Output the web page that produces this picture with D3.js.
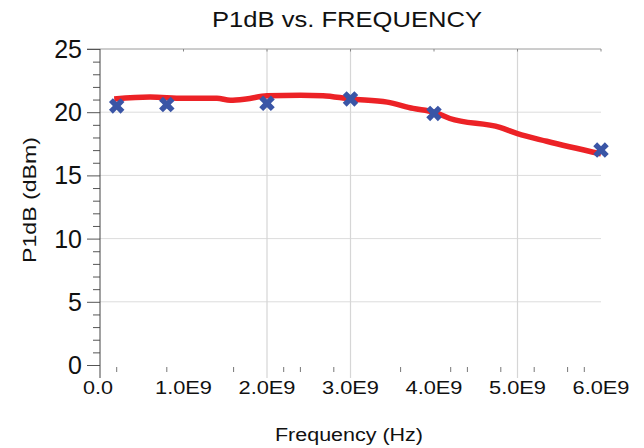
<!DOCTYPE html>
<html>
<head>
<meta charset="utf-8">
<script src="https://cdn.jsdelivr.net/npm/d3@7"></script>
<style>
  body { margin: 0; background: #fff; }
  text { font-family: "Liberation Sans", Arial, sans-serif; fill: #111; }
</style>
</head>
<body>
<div id="chart"></div>
<script>
// measured curve (red)
let curveFreq = [0.17e9, 0.6e9, 1.0e9, 1.4e9, 1.56e9, 1.75e9, 2.0e9, 2.4e9, 2.67e9, 3.0e9, 3.44e9, 3.75e9, 4.0e9, 4.19e9, 4.79e9, 5.0e9, 5.35e9, 6.0e9];
let curveP1dB = [21.05, 21.2, 21.1, 21.1, 20.95, 21.05, 21.3, 21.35, 21.3, 21.05, 20.8, 20.3, 20.0, 19.5, 18.8, 18.3, 17.7, 16.7];

// spot measurements (blue X)
let pointFreq = [0.2e9, 0.8e9, 2.0e9, 3.0e9, 4.0e9, 6.0e9];
let pointP1dB = [20.5, 20.6, 20.7, 21.05, 19.9, 17.0];

// axes
let xTickVals = [0, 1e9, 2e9, 3e9, 4e9, 5e9, 6e9];
let xTickLabels = ["0.0", "1.0E9", "2.0E9", "3.0E9", "4.0E9", "5.0E9", "6.0E9"];
let xGridVals = [2e9, 3e9, 5e9];
let xMinorVals = [0.2e9, 0.8e9, 1.6e9, 2.2e9, 2.4e9, 2.8e9, 3.6e9, 4.2e9, 4.4e9, 4.8e9, 5.2e9, 5.6e9, 5.8e9];
let yTickVals = [0, 5, 10, 15, 20, 25];

let width = 644, height = 448;

let svg = d3.select("#chart").append("svg")
    .attr("width", width)
    .attr("height", height);

let x = d3.scaleLinear().domain([0, 6e9]).range([100, 601]);
let y = d3.scaleLinear().domain([0, 25]).range([365, 49]);

// horizontal grid
svg.selectAll(".hgrid")
    .data(yTickVals.filter(d => d > 0 && d < 25))
    .enter().append("line")
    .attr("x1", x(0)).attr("x2", x(6e9))
    .attr("y1", d => y(d)).attr("y2", d => y(d))
    .attr("stroke", "#dcdcdc").attr("stroke-width", 1);

// top line at 25
svg.append("line")
    .attr("x1", 87).attr("x2", x(6e9))
    .attr("y1", y(25)).attr("y2", y(25))
    .attr("stroke", "#9a9a9a").attr("stroke-width", 1);

// vertical grid
svg.selectAll(".vgrid")
    .data(xGridVals)
    .enter().append("line")
    .attr("x1", d => x(d)).attr("x2", d => x(d))
    .attr("y1", y(25)).attr("y2", 378)
    .attr("stroke", "#d6d6d6").attr("stroke-width", 1.2);

// small ticks along the top
svg.selectAll(".ttick")
    .data(xTickVals.slice(1))
    .enter().append("line")
    .attr("x1", d => x(d)).attr("x2", d => x(d))
    .attr("y1", y(25)).attr("y2", y(25) + 2.5)
    .attr("stroke", "#888");

// minor ticks along the bottom
svg.selectAll(".btick")
    .data(xMinorVals)
    .enter().append("line")
    .attr("x1", d => x(d)).attr("x2", d => x(d))
    .attr("y1", 367).attr("y2", 372)
    .attr("stroke", "#777").attr("stroke-width", 1);

// y axis
let yAxis = d3.axisLeft(y)
    .tickValues(d3.range(0, 26, 1))
    .tickSize(7)
    .tickFormat("");
let yg = svg.append("g")
    .attr("transform", "translate(" + x(0) + ",0)")
    .call(yAxis);
yg.select(".domain").remove();
yg.selectAll(".tick line")
    .attr("stroke", "#555")
    .attr("x2", d => d % 5 === 0 ? -13 : -7);
yg.append("line")
    .attr("x1", 0).attr("x2", 0)
    .attr("y1", y(25)).attr("y2", 378)
    .attr("stroke", "#444");

svg.selectAll(".ylab")
    .data(yTickVals)
    .enter().append("text")
    .attr("x", 82)
    .attr("y", d => y(d) + 9)
    .attr("text-anchor", "end")
    .style("font-size", "25px")
    .text(d => d);

// x labels
svg.selectAll(".xlab")
    .data(xTickVals)
    .enter().append("text")
    .attr("x", d => x(d) - (d === 0 ? 2 : 0))
    .attr("y", 394)
    .attr("text-anchor", "middle")
    .style("font-size", "18px")
    .attr("textLength", (d, i) => i === 0 ? 30 : 57)
    .attr("lengthAdjust", "spacingAndGlyphs")
    .text((d, i) => xTickLabels[i]);

// curve
let line = d3.line()
    .x((d, i) => x(curveFreq[i]))
    .y(d => y(d))
    .curve(d3.curveMonotoneX);

svg.append("path")
    .datum(curveP1dB)
    .attr("d", line)
    .attr("fill", "none")
    .attr("stroke", "#ec2226")
    .attr("stroke-width", 5.5)
    .attr("stroke-linejoin", "round");

// markers
let cross = d3.symbol().type(d3.symbolCross).size(150);
svg.selectAll(".pt")
    .data(pointP1dB)
    .enter().append("path")
    .attr("d", cross)
    .attr("transform", (d, i) => "translate(" + x(pointFreq[i]) + "," + y(d) + ") rotate(45)")
    .attr("fill", "#3a55a6");

// titles
svg.append("text")
    .attr("x", 347).attr("y", 27)
    .attr("text-anchor", "middle")
    .style("font-size", "22px")
    .attr("textLength", 270)
    .attr("lengthAdjust", "spacingAndGlyphs")
    .text("P1dB vs. FREQUENCY");

svg.append("text")
    .attr("x", 349).attr("y", 441)
    .attr("text-anchor", "middle")
    .style("font-size", "18px")
    .attr("textLength", 148)
    .attr("lengthAdjust", "spacingAndGlyphs")
    .text("Frequency (Hz)");

svg.append("text")
    .attr("transform", "translate(36,200) rotate(-90)")
    .attr("text-anchor", "middle")
    .style("font-size", "19px")
    .attr("textLength", 126)
    .attr("lengthAdjust", "spacingAndGlyphs")
    .text("P1dB (dBm)");
</script>
</body>
</html>
